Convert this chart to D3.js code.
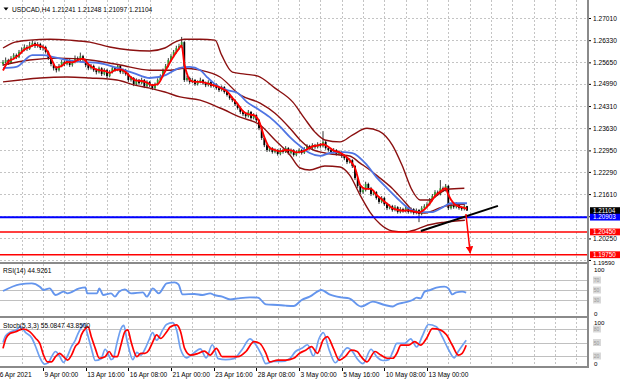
<!DOCTYPE html>
<html><head><meta charset="utf-8">
<script src="https://cdn.jsdelivr.net/npm/d3@7"></script>
<style>
html,body{margin:0;padding:0;background:#fff;}
svg{display:block;font-family:"Liberation Sans",Arial,sans-serif;}
</style></head><body><svg id="c" width="620" height="382"></svg>
<script>
// ---------------- DATA ----------------
const symbolTitle = "USDCAD,H4";
const lastOHLC = [1.21241, 1.21248, 1.21097, 1.21104];
const priceTicks = [1.27010,1.26330,1.25650,1.24990,1.24310,1.23630,1.22950,1.22290,1.21610,1.20930,1.20250,1.19590];
const timeLabels = [[-1.8,"6 Apr 2021"],[15,"9 Apr 00:00"],[31,"13 Apr 16:00"],[47,"16 Apr 08:00"],[63,"21 Apr 00:00"],[79,"23 Apr 16:00"],[95,"28 Apr 08:00"],[111,"3 May 00:00"],[127,"5 May 16:00"],[143,"10 May 08:00"],[159,"13 May 00:00"]];

const opens = [
1.2560,1.2566,1.2572,1.2563,1.2578,1.2587,1.2581,1.2597,1.2603,1.2612,
1.2606,1.2618,1.2624,1.2615,1.2621,1.2609,1.2612,1.2597,1.2578,1.2560,
1.2547,1.2541,1.2554,1.2566,1.2560,1.2572,1.2557,1.2566,1.2578,1.2572,
1.2584,1.2572,1.2557,1.2547,1.2554,1.2541,1.2535,1.2547,1.2529,1.2541,
1.2523,1.2535,1.2547,1.2541,1.2554,1.2535,1.2541,1.2529,1.2511,1.2517,
1.2498,1.2511,1.2501,1.2511,1.2492,1.2505,1.2495,1.2486,1.2498,1.2511,
1.2523,1.2541,1.2554,1.2572,1.2584,1.2597,1.2609,1.2615,1.2627,1.2511,
1.2517,1.2505,1.2511,1.2498,1.2505,1.2511,1.2501,1.2495,1.2505,1.2492,
1.2498,1.2486,1.2480,1.2489,1.2474,1.2465,1.2455,1.2449,1.2437,1.2425,
1.2413,1.2406,1.2400,1.2413,1.2394,1.2403,1.2388,1.2363,1.2333,1.2311,
1.2296,1.2302,1.2290,1.2296,1.2284,1.2296,1.2290,1.2302,1.2287,1.2296,
1.2281,1.2290,1.2296,1.2287,1.2299,1.2308,1.2302,1.2311,1.2305,1.2314,
1.2308,1.2321,1.2302,1.2296,1.2290,1.2296,1.2284,1.2290,1.2278,1.2271,
1.2259,1.2265,1.2247,1.2210,1.2186,1.2167,1.2173,1.2192,1.2179,1.2161,
1.2167,1.2149,1.2137,1.2149,1.2130,1.2118,1.2124,1.2112,1.2121,1.2106,
1.2115,1.2109,1.2118,1.2106,1.2115,1.2103,1.2112,1.2100,1.2118,1.2124,
1.2130,1.2143,1.2155,1.2167,1.2161,1.2179,1.2173,1.2186,1.2118,1.2127,
1.2121,1.2130,1.2118,1.2115,1.21241];
const highs = [
1.2572,1.2580,1.2576,1.2584,1.2593,1.2592,1.2603,1.2611,1.2620,1.2618,
1.2628,1.2632,1.2629,1.2627,1.2625,1.2619,1.2616,1.2601,1.2582,1.2565,
1.2553,1.2560,1.2572,1.2571,1.2578,1.2575,1.2571,1.2586,1.2583,1.2595,
1.2588,1.2576,1.2561,1.2560,1.2558,1.2546,1.2552,1.2550,1.2547,1.2545,
1.2541,1.2553,1.2551,1.2560,1.2557,1.2546,1.2545,1.2532,1.2523,1.2520,
1.2516,1.2514,1.2518,1.2514,1.2510,1.2508,1.2499,1.2503,1.2516,1.2528,
1.2546,1.2560,1.2578,1.2590,1.2603,1.2616,1.2622,1.2643,1.2630,1.2524,
1.2521,1.2517,1.2514,1.2510,1.2518,1.2514,1.2506,1.2510,1.2508,1.2503,
1.2501,1.2490,1.2494,1.2492,1.2478,1.2469,1.2460,1.2452,1.2441,1.2429,
1.2418,1.2410,1.2419,1.2416,1.2409,1.2406,1.2391,1.2366,1.2337,1.2315,
1.2308,1.2305,1.2301,1.2299,1.2302,1.2300,1.2308,1.2305,1.2301,1.2299,
1.2295,1.2301,1.2299,1.2305,1.2314,1.2312,1.2317,1.2315,1.2320,1.2318,
1.2354,1.2325,1.2307,1.2300,1.2302,1.2299,1.2295,1.2293,1.2282,1.2275,
1.2271,1.2268,1.2250,1.2214,1.2190,1.2180,1.2199,1.2196,1.2183,1.2173,
1.2170,1.2153,1.2155,1.2152,1.2134,1.2130,1.2128,1.2127,1.2124,1.2121,
1.2119,1.2124,1.2121,1.2120,1.2118,1.2117,1.2115,1.2124,1.2130,1.2136,
1.2149,1.2161,1.2173,1.2172,1.2204,1.2184,1.2192,1.2189,1.2133,1.2131,
1.2136,1.2133,1.2122,1.2128,1.21248];
const lows = [
1.2554,1.2561,1.2557,1.2560,1.2574,1.2575,1.2578,1.2592,1.2599,1.2600,
1.2603,1.2613,1.2609,1.2610,1.2603,1.2601,1.2592,1.2572,1.2553,1.2540,
1.2534,1.2537,1.2550,1.2553,1.2556,1.2551,1.2552,1.2562,1.2566,1.2569,
1.2566,1.2550,1.2541,1.2543,1.2536,1.2528,1.2531,1.2523,1.2525,1.2517,
1.2519,1.2531,1.2536,1.2538,1.2530,1.2529,1.2524,1.2505,1.2506,1.2492,
1.2494,1.2496,1.2498,1.2486,1.2488,1.2489,1.2480,1.2483,1.2494,1.2507,
1.2519,1.2537,1.2550,1.2568,1.2580,1.2592,1.2604,1.2610,1.2505,1.2506,
1.2499,1.2501,1.2493,1.2494,1.2501,1.2496,1.2489,1.2491,1.2487,1.2488,
1.2481,1.2474,1.2476,1.2469,1.2460,1.2450,1.2443,1.2431,1.2420,1.2407,
1.2400,1.2394,1.2396,1.2389,1.2390,1.2382,1.2357,1.2327,1.2305,1.2290,
1.2291,1.2285,1.2286,1.2279,1.2280,1.2285,1.2287,1.2282,1.2283,1.2276,
1.2277,1.2286,1.2282,1.2284,1.2295,1.2297,1.2298,1.2300,1.2301,1.2303,
1.2304,1.2297,1.2291,1.2284,1.2286,1.2279,1.2280,1.2272,1.2265,1.2253,
1.2255,1.2241,1.2204,1.2180,1.2161,1.2162,1.2169,1.2174,1.2155,1.2157,
1.2144,1.2131,1.2133,1.2125,1.2112,1.2114,1.2107,1.2108,1.2101,1.2102,
1.2104,1.2105,1.2101,1.2102,1.2098,1.2099,1.2075,1.2096,1.2114,1.2120,
1.2126,1.2139,1.2151,1.2156,1.2157,1.2168,1.2169,1.2112,1.2114,1.2116,
1.2117,1.2113,1.2110,1.2111,1.21097];
const closes = [
1.2566,1.2572,1.2563,1.2578,1.2587,1.2581,1.2597,1.2603,1.2612,1.2606,
1.2618,1.2624,1.2615,1.2621,1.2609,1.2612,1.2597,1.2578,1.2560,1.2547,
1.2541,1.2554,1.2566,1.2560,1.2572,1.2557,1.2566,1.2578,1.2572,1.2584,
1.2572,1.2557,1.2547,1.2554,1.2541,1.2535,1.2547,1.2529,1.2541,1.2523,
1.2535,1.2547,1.2541,1.2554,1.2535,1.2541,1.2529,1.2511,1.2517,1.2498,
1.2511,1.2501,1.2511,1.2492,1.2505,1.2495,1.2486,1.2498,1.2511,1.2523,
1.2541,1.2554,1.2572,1.2584,1.2597,1.2609,1.2615,1.2627,1.2511,1.2517,
1.2505,1.2511,1.2498,1.2505,1.2511,1.2501,1.2495,1.2505,1.2492,1.2498,
1.2486,1.2480,1.2489,1.2474,1.2465,1.2455,1.2449,1.2437,1.2425,1.2413,
1.2406,1.2400,1.2413,1.2394,1.2403,1.2388,1.2363,1.2333,1.2311,1.2296,
1.2302,1.2290,1.2296,1.2284,1.2296,1.2290,1.2302,1.2287,1.2296,1.2281,
1.2290,1.2296,1.2287,1.2299,1.2308,1.2302,1.2311,1.2305,1.2314,1.2308,
1.2321,1.2302,1.2296,1.2290,1.2296,1.2284,1.2290,1.2278,1.2271,1.2259,
1.2265,1.2247,1.2210,1.2186,1.2167,1.2173,1.2192,1.2179,1.2161,1.2167,
1.2149,1.2137,1.2149,1.2130,1.2118,1.2124,1.2112,1.2121,1.2106,1.2115,
1.2109,1.2118,1.2106,1.2115,1.2103,1.2112,1.2100,1.2118,1.2124,1.2130,
1.2143,1.2155,1.2167,1.2161,1.2179,1.2173,1.2186,1.2118,1.2127,1.2121,
1.2130,1.2118,1.2115,1.21241,1.21104];

// indicator lines: [bar index, value]
const redMA = [[0,1.2540],[2,1.2567],[4,1.2576],[6,1.2588],[8,1.2604],[10,1.2612],[12,1.2619],[14,1.2615],[16,1.2606],[18,1.2578],[20,1.2549],[22,1.2554],[24,1.2566],[26,1.2565],[28,1.2572],[30,1.2576],[32,1.2559],[34,1.2547],[36,1.2541],[38,1.2539],[40,1.2533],[42,1.2541],[44,1.2543],[46,1.2535],[48,1.2519],[50,1.2509],[52,1.2508],[54,1.2503],[56,1.2495],[58,1.2498],[60,1.2525],[62,1.2556],[64,1.2584],[66,1.2607],[67,1.2617],[68,1.2560],[69,1.2530],[70,1.2511],[72,1.2505],[74,1.2505],[76,1.2502],[78,1.2497],[80,1.2492],[82,1.2485],[84,1.2476],[86,1.2456],[88,1.2437],[90,1.2415],[92,1.2406],[94,1.2403],[96,1.2385],[98,1.2336],[100,1.2303],[102,1.2296],[104,1.2292],[106,1.2296],[108,1.2295],[110,1.2289],[112,1.2291],[114,1.2298],[116,1.2307],[118,1.2310],[120,1.2314],[122,1.2306],[124,1.2294],[126,1.2290],[128,1.2280],[130,1.2265],[132,1.2241],[134,1.2188],[136,1.2177],[138,1.2177],[140,1.2159],[142,1.2145],[144,1.2132],[146,1.2118],[148,1.2113],[150,1.2110],[152,1.2111],[154,1.2108],[156,1.2105],[158,1.2114],[160,1.2132],[162,1.2155],[164,1.2169],[166,1.2179],[167,1.2159],[168,1.2144],[170,1.2126],[172,1.2121],[174,1.2116]];
const blueMA = [[0,1.2547],[5,1.2551],[11,1.2587],[15,1.2587],[19,1.2581],[24,1.2572],[30,1.2566],[36,1.2563],[43,1.2547],[49,1.2532],[55,1.2517],[61,1.2526],[66,1.2547],[70,1.2551],[74,1.2541],[76.5,1.2520],[80,1.2495],[84,1.2480],[88,1.2471],[91.5,1.2443],[95,1.2425],[100,1.2397],[104,1.2367],[107.6,1.2336],[111,1.2311],[115,1.2287],[119,1.2278],[122.6,1.2287],[127.5,1.2290],[131,1.2287],[136.5,1.2250],[140,1.2213],[144,1.2179],[147.7,1.2149],[151.5,1.2121],[156,1.2106],[161,1.2106],[165,1.2121],[168,1.2133],[174,1.2133]];
const bbUpper = [[0,1.2609],[4.5,1.2627],[10,1.2633],[17.6,1.2636],[25,1.2633],[32.6,1.2627],[40,1.2612],[47.6,1.2603],[55,1.2600],[60.7,1.2609],[64.5,1.2627],[68,1.2636],[74,1.2636],[79.5,1.2633],[82,1.2587],[86,1.2535],[90.7,1.2529],[95.6,1.2523],[102,1.2486],[108.7,1.2443],[113,1.2394],[117,1.2351],[120.7,1.2327],[126.4,1.2321],[131,1.2342],[136.5,1.2363],[141,1.2354],[146,1.2311],[149.6,1.2250],[153.4,1.2173],[156.4,1.2143],[160,1.2143],[163.9,1.2164],[166.5,1.2176],[173,1.2179]];
const bbMiddle = [[0,1.2557],[10,1.2572],[21,1.2578],[32.6,1.2572],[43.9,1.2557],[55,1.2541],[62.6,1.2541],[68,1.2547],[74,1.2541],[81.4,1.2520],[88.9,1.2465],[96.4,1.2440],[102,1.2409],[107.6,1.2363],[111.4,1.2327],[115,1.2302],[120.7,1.2287],[126.4,1.2281],[130,1.2278],[133.9,1.2256],[137.6,1.2235],[141.4,1.2210],[145.9,1.2179],[150.7,1.2137],[154.5,1.2106],[158.2,1.2103],[165.7,1.2124],[173.2,1.2130]];
const bbLower = [[0,1.2505],[6.4,1.2511],[13.9,1.2517],[24,1.2520],[32.6,1.2517],[42.7,1.2511],[49.5,1.2495],[55,1.2486],[60.7,1.2474],[66.4,1.2459],[73.9,1.2449],[81.4,1.2425],[88.9,1.2397],[96.4,1.2373],[102,1.2327],[107.6,1.2281],[111.4,1.2241],[115,1.2235],[120.7,1.2247],[126.4,1.2244],[130,1.2219],[133.9,1.2158],[137.6,1.2106],[141.4,1.2069],[145.9,1.2048],[150.7,1.2045],[154.5,1.2051],[158.2,1.2063],[165.7,1.2075],[173.2,1.2081]];

const rsiValues = [[0,48],[6.3,61.3],[10.8,63.3],[13.8,56.7],[15.2,50],[17.5,53.3],[19.7,40],[22.7,46.7],[24.2,43.3],[28.6,53.3],[30.9,55.3],[31.6,43.3],[35.3,43.3],[36.1,53.3],[37.6,40],[40.5,43.3],[42,36.7],[43.5,46.7],[45.7,51.3],[48,43.3],[52.5,45.3],[53.9,36.7],[56.2,53.3],[58.4,43.3],[61.4,63.3],[64.3,65.3],[65.8,61.3],[67.3,41.3],[71.8,42],[74.8,40],[77.7,43.3],[79.2,40],[82.2,36.7],[85.2,31.3],[88.1,33.3],[92.6,35.3],[95.6,34.7],[98.6,21.3],[103,20],[106,18.7],[109,18],[112,30],[115,36.7],[119.4,50],[122.4,41.3],[126.8,35.3],[129.8,33.3],[134.3,17],[138.7,26.7],[143.2,20],[146.2,17],[147.7,21.3],[150.7,25.3],[153.6,30],[155.1,34.7],[156.6,33.3],[158.1,46.7],[160.3,50],[162.5,54.7],[165.5,56.7],[167,53.3],[168.5,41.3],[170,45.3],[172.2,46.7],[173.7,44.93]];
const stochMain = [[0,50],[1,65],[3,74],[5,78],[6.5,85],[8.5,72],[10.8,60],[12.3,40],[13.7,18],[15.5,2],[17,5],[18.2,18],[19.7,30],[21.2,20],[22.7,6],[24.2,20],[25.6,40],[27.1,55],[28,68],[29.4,84],[30.4,92],[31.6,70],[33.1,38],[34.6,10],[36.8,14],[38.3,35],[39.8,20],[40.5,12],[41.3,14],[42.7,48],[44.2,80],[45.3,88],[46.5,55],[48.7,12],[50.2,28],[51.7,22],[53.2,35],[54.7,55],[56.1,72],[57.6,55],[59.9,78],[61.3,90],[63.6,94],[65.1,78],[66.6,35],[68.8,16],[71.8,28],[74,36],[76.2,16],[78.5,45],[80.7,14],[83.5,12],[86.6,14],[89.6,34],[92.6,58],[94.8,45],[97,22],[98.5,3],[101.5,8],[104.5,8],[107.5,14],[109.7,30],[112,37],[114.2,45],[116.4,20],[118.6,60],[120.1,72],[122.4,32],[124.6,5],[126.8,22],[129.1,38],[131.3,28],[132.8,14],[135,3],[138,35],[140.2,18],[142.5,10],[144.7,12],[146.2,30],[147.7,48],[150.6,48],[152.9,58],[155.1,40],[157.3,65],[159.5,90],[162.5,85],[164.8,62],[167,35],[169.2,16],[170.7,30],[173.7,55.08]];
const stochSignal = [[0,37],[1.1,59],[2.6,70],[4.8,74],[6.3,78],[7.8,80],[10,74],[12.3,59],[13.8,48],[15.2,22],[16.7,7],[18.2,7],[19.7,18.5],[21.2,26],[22.7,18.5],[24.2,11],[25.7,22],[27.1,41],[28.6,52],[29.4,67],[30.9,81],[31.9,85],[33.1,63],[34.6,37],[36.1,15],[38.3,18.5],[39.8,30],[41.3,18.5],[42.8,18.5],[44.2,44],[45.7,74],[46.8,78],[48,52],[50.2,18.5],[51.7,26],[53.2,26],[54.7,33],[56.2,52],[57.6,67],[59.1,59],[61.4,74],[62.8,85],[65.1,89],[66.6,74],[68.1,37],[70.3,22],[73.3,26],[75.5,31],[77.7,22],[80,37],[82.2,18.5],[85.2,18.5],[88.1,18.5],[91.1,30],[94.1,52],[96.3,48],[98.6,26],[100,7],[103,11],[106,11],[109,15],[111.2,26],[113.5,33],[115.7,41],[117.9,26],[120.1,56],[121.6,63],[123.9,37],[126.1,11],[128.3,18.5],[130.6,33],[132.8,30],[134.3,18.5],[136.5,7],[139.5,30],[141.7,22],[144,15],[146.2,15],[147.7,26],[149.2,44],[152.1,44],[154.4,52],[156.6,44],[158.8,59],[161,81],[164,78],[166.3,67],[168.5,44],[170.7,22],[172.2,26],[173.7,43.85]];

const hLinePrices = [1.20903, 1.20450, 1.19750];
const markerPrices = [1.21104, 1.20903, 1.20450, 1.19750];
const trendLine = [[156.7,1.2048],[185.6,1.2125]];
const arrowLine = [[173.6,1.2100],[175.2,1.1980]];
const rsiLevels = [70,50,30];
const stochLevels = [80,50,20];
const rsiTitle = "RSI(14) 44.9261";
const stochTitle = "Stoch(5,3,3) 55.0847 43.8500";

// ---------------- DRAW ----------------
const svg = d3.select("#c");
const R = 588;
const x = d3.scaleLinear().domain([0, 219]).range([3, 3 + 219 * 2.6667]);
const yM = d3.scaleLinear().domain([1.19497, 1.27562]).range([263, 0]);
const yR = d3.scaleLinear().domain([0, 100]).range([315, 265]);
const yS = d3.scaleLinear().domain([0, 100]).range([365, 320]);
const FS = "6.6px";

const defs = svg.append("defs");
[["cm",0,0,R,262],["cr",0,264,R,52],["cs",0,318,R,49]].forEach(([id,x0,y0,w,h])=>{
  defs.append("clipPath").attr("id",id).append("rect").attr("x",x0).attr("y",y0).attr("width",w).attr("height",h);
});
defs.append("marker").attr("id","arr").attr("viewBox","0 0 10 10").attr("refX",9).attr("refY",5)
  .attr("markerWidth",5).attr("markerHeight",5).attr("orient","auto-start-reverse")
  .append("path").attr("d","M0,0 L10,5 L0,10 Z").attr("fill","#ff0000");

// grid
const gridIdx = d3.range(7, 216, 8);
const gridG = svg.append("g").attr("stroke","#c4c4c4").attr("stroke-width",1).attr("stroke-dasharray","2,2");
[[0,262],[264,316],[318,367]].forEach(([t,b])=>{
  gridG.append("g").selectAll("line").data(gridIdx).join("line")
    .attr("x1",d=>Math.round(x(d))+0.5).attr("x2",d=>Math.round(x(d))+0.5).attr("y1",t).attr("y2",b);
});
gridG.append("g").selectAll("line").data(priceTicks).join("line")
  .attr("x1",0).attr("x2",R).attr("y1",d=>Math.round(yM(d))+0.5).attr("y2",d=>Math.round(yM(d))+0.5);

// main panel
const gm = svg.append("g").attr("clip-path","url(#cm)");
const bars = closes.map((c,i)=>({i,o:opens[i],h:highs[i],l:lows[i],c}));
gm.append("g").selectAll("line").data(bars).join("line")
  .attr("x1",d=>x(d.i)).attr("x2",d=>x(d.i)).attr("y1",d=>yM(d.h)).attr("y2",d=>yM(d.l))
  .attr("stroke","#000").attr("stroke-width",0.8);
gm.append("g").selectAll("rect").data(bars).join("rect")
  .attr("x",d=>x(d.i)-0.9).attr("width",1.8)
  .attr("y",d=>yM(Math.max(d.o,d.c))).attr("height",d=>Math.max(0.8,Math.abs(yM(d.o)-yM(d.c))))
  .attr("fill",d=>d.c>=d.o?"#2f9a2f":"#000");

const lineM = d3.line().x(d=>x(d[0])).y(d=>yM(d[1])).curve(d3.curveMonotoneX);
[bbUpper,bbMiddle,bbLower].forEach(s=>gm.append("path").attr("d",lineM(s)).attr("fill","none").attr("stroke","#8b1010").attr("stroke-width",1.4));
gm.append("path").attr("d",lineM(blueMA)).attr("fill","none").attr("stroke","#4f74e3").attr("stroke-width",1.8);
gm.append("path").attr("d",lineM(redMA)).attr("fill","none").attr("stroke","#ff0000").attr("stroke-width",1.9);

const hColors = ["#0000ff","#ff0000","#ff0000"];
gm.append("g").selectAll("line").data(hLinePrices).join("line")
  .attr("x1",0).attr("x2",R).attr("y1",d=>yM(d)).attr("y2",d=>yM(d))
  .attr("stroke",(d,i)=>hColors[i]).attr("stroke-width",(d,i)=>i===0?2:1.5);

const lineS = d3.line().x(d=>x(d[0])).y(d=>yM(d[1]));
gm.append("path").attr("d",lineS(trendLine)).attr("stroke","#000").attr("stroke-width",2).attr("fill","none");
gm.append("path").attr("d",lineS(arrowLine)).attr("stroke","#ff0000").attr("stroke-width",1.5).attr("fill","none").attr("marker-end","url(#arr)");

// header
svg.append("path").attr("d","M3.5,7.5 L8.5,7.5 L6,10.5 Z").attr("fill","#000");
svg.append("text").attr("x",12).attr("y",11.5).attr("font-size",FS).attr("fill","#000")
  .text(symbolTitle + "  " + lastOHLC.map(v=>v.toFixed(5)).join(" "));

// right price axis
const ax = svg.append("g").attr("transform",`translate(${R},0)`)
  .call(d3.axisRight(yM).tickValues(priceTicks).tickSize(3).tickPadding(2).tickFormat(d3.format(".5f")));
ax.select(".domain").remove();
const lastTick = priceTicks.length - 1;
ax.selectAll("text").attr("font-family","Liberation Sans, Arial, sans-serif").attr("fill","#000")
  .attr("font-size",(d,i)=>i===lastTick?"6px":FS)
  .attr("dy",(d,i)=>i===lastTick?"0.7em":"0.32em");
ax.selectAll("line").attr("stroke","#000");

const mColors = ["#000000","#0000ff","#ff0000","#ff0000"];
const mk = svg.append("g").selectAll("g").data(markerPrices).join("g")
  .attr("transform",d=>`translate(590,${yM(d)})`);
mk.append("rect").attr("x",0).attr("y",-3.4).attr("width",30).attr("height",6.8).attr("fill",(d,i)=>mColors[i]);
mk.append("text").attr("x",3).attr("y",2.2).attr("font-size","6.3px").attr("fill","#fff").text(d=>d.toFixed(5));

// RSI panel
const gr = svg.append("g");
gr.append("g").selectAll("line").data(rsiLevels).join("line")
  .attr("x1",0).attr("x2",R).attr("y1",d=>Math.round(yR(d))+0.5).attr("y2",d=>Math.round(yR(d))+0.5)
  .attr("stroke","#c0c0c0");
const lineR = d3.line().x(d=>x(d[0])).y(d=>yR(d[1])).curve(d3.curveMonotoneX);
gr.append("path").attr("clip-path","url(#cr)").attr("d",lineR(rsiValues)).attr("fill","none").attr("stroke","#6495ed").attr("stroke-width",1.9);
gr.append("text").attr("x",3).attr("y",273).attr("font-size",FS).text(rsiTitle);

// Stoch panel
const gs = svg.append("g");
gs.append("g").selectAll("line").data(stochLevels).join("line")
  .attr("x1",0).attr("x2",R).attr("y1",d=>Math.round(yS(d))+0.5).attr("y2",d=>Math.round(yS(d))+0.5)
  .attr("stroke","#c0c0c0");
const lineSt = d3.line().x(d=>x(d[0])).y(d=>yS(d[1])).curve(d3.curveMonotoneX);
gs.append("path").attr("clip-path","url(#cs)").attr("d",lineSt(stochMain)).attr("fill","none").attr("stroke","#6fa0f0").attr("stroke-width",1.7);
gs.append("path").attr("clip-path","url(#cs)").attr("d",lineSt(stochSignal)).attr("fill","none").attr("stroke","#ff0000").attr("stroke-width",1.7);
gs.append("text").attr("x",3).attr("y",328).attr("font-size",FS).text(stochTitle);

// subwindow right scales
function subScale(y, levels, topDy){
  const g = svg.append("g");
  g.append("text").attr("x",594).attr("y",y(100)+topDy).attr("font-size","6.2px").text("100");
  g.append("text").attr("x",594).attr("y",y(0)+1).attr("font-size","6.2px").text("0");
  const lv = g.selectAll("g").data(levels).join("g").attr("transform",d=>`translate(593,${y(d)})`);
  lv.append("rect").attr("x",0).attr("y",-3.5).attr("width",8).attr("height",7).attr("fill","#d9d9d9");
  lv.append("text").attr("x",0.8).attr("y",2).attr("font-size","5px").attr("fill","#9a9a9a").text(d=>d);
}
subScale(yR, rsiLevels, 6.5);
subScale(yS, stochLevels, 4.5);

// frames
const fr = svg.append("g").attr("stroke","#8a8a8a").attr("fill","none");
fr.append("line").attr("x1",0).attr("x2",R+1).attr("y1",263).attr("y2",263).attr("stroke-width",2);
fr.append("line").attr("x1",0).attr("x2",R+1).attr("y1",317).attr("y2",317).attr("stroke-width",2);
fr.append("line").attr("x1",0).attr("x2",R+1).attr("y1",367).attr("y2",367).attr("stroke-width",2);
fr.append("line").attr("x1",R).attr("x2",R).attr("y1",0).attr("y2",368).attr("stroke-width",2);

// time axis
const tg = svg.append("g");
tg.selectAll("line").data(timeLabels.slice(1)).join("line")
  .attr("x1",d=>Math.round(x(d[0]))+0.5).attr("x2",d=>Math.round(x(d[0]))+0.5).attr("y1",368).attr("y2",371).attr("stroke","#000");
tg.selectAll("text").data(timeLabels).join("text")
  .attr("x",d=>x(d[0])+1.5).attr("y",377).attr("font-size",FS).attr("fill","#000").text(d=>d[1]);
</script></body></html>
